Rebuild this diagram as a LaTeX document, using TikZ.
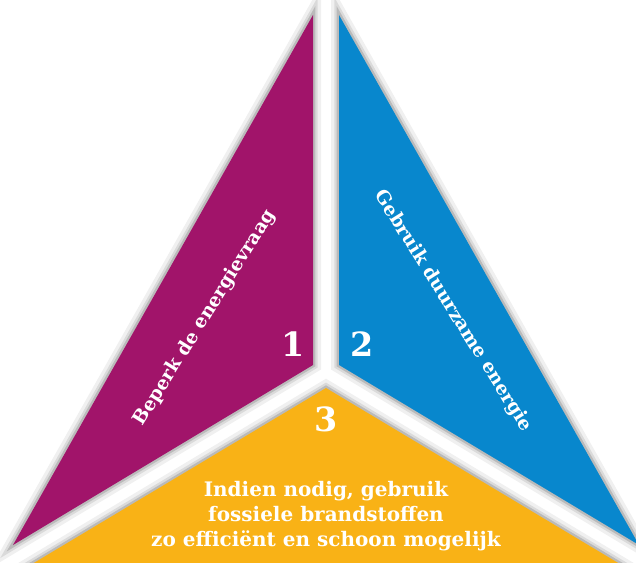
\documentclass[tikz,border=0pt]{standalone}
\usepackage{fontspec}
\setmainfont{DejaVu Serif}
\newfontfamily\slab{DejaVu Serif}
\usepackage{tikz}
\definecolor{trpurple}{RGB}{161,20,106}
\definecolor{trblue}{RGB}{8,135,205}
\definecolor{tryellow}{RGB}{249,178,22}
\tikzset{
  part/.style={line join=round,
    preaction={draw=black, draw opacity=.06, line width=12pt},
    preaction={draw=black, draw opacity=.09, line width=7pt},
    preaction={draw=black, draw opacity=.15, line width=3.5pt}},
  lbl/.style={text=white, font=\slab\bfseries},
  num/.style={text=white, font=\slab\bfseries\fontsize{25}{25}\selectfont}
}

\begin{document}
\begin{tikzpicture}[x=0.75pt,y=-0.75pt]
\useasboundingbox (0,0) rectangle (636,563);
\clip (0,0) rectangle (636,563);
%\fill[white] (0,0) rectangle (636,563);
\fill[part,trpurple] (313,15)--(313,365)--(13,545)--cycle;
\fill[part,trblue] (339,15)--(339,365)--(639,545)--cycle;
\fill[part,tryellow] (326,388)--(680,600)--(-28,600)--cycle;
\node[lbl,rotate=58,font=\slab\bfseries\fontsize{14}{14}\selectfont] (vraag) at (205,318) {Beperk de energievraag};
\node[lbl,rotate=-58,font=\slab\bfseries\fontsize{14}{14}\selectfont] (duurzaam) at (453,311) {Gebruik duurzame energie};
\node[num] (een) at (293,344) {1};
\node[num] (twee) at (362,344) {2};
\node[num] (drie) at (326,419) {3};
\node[lbl,align=center,font=\slab\bfseries\fontsize{15}{18.75}\selectfont] (fossiel) at (326,516)
  {Indien nodig, gebruik\\fossiele brandstoffen\\zo efficiënt en schoon mogelijk};
\end{tikzpicture}
\end{document}
